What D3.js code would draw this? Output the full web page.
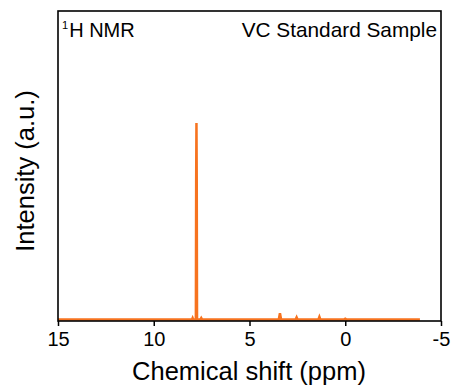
<!DOCTYPE html>
<html><head><meta charset="utf-8">
<script src="https://cdn.jsdelivr.net/npm/d3@7"></script>
<style>body{margin:0;background:#fff}svg{display:block}text{font-family:"Liberation Sans",Arial,sans-serif;fill:#000}</style>
</head><body>
<script>
// Chemical shift (ppm) and intensity (a.u., main peak = 100)
const shift = [15, 8.10, 8.00, 7.97, 7.94, 7.80, 7.785, 7.77, 7.755, 7.74, 7.56, 7.52, 7.48, 7.0,
  3.47, 3.41, 3.35, 2.59, 2.54, 2.49, 1.40, 1.35, 1.30, 0.05, 0.0, -0.05, -3.9];
const intensity = [0, 0, 0, 0.7, 0, 0, 70, 100, 70, 0, 0, 0.7, 0, 0,
  0, 3.2, 0, 0, 1.1, 0, 0, 1.3, 0, 0, 0.3, 0, 0];
const xTicks = [15, 10, 5, 0, -5];
const labelTopLeft = "H NMR";
const labelTopRight = "VC Standard Sample";

const W = 454, H = 391;
const m = {left: 58, right: 441, top: 11, bottom: 321};
const svg = d3.select("body").append("svg").attr("width", W).attr("height", H);

const x = d3.scaleLinear().domain([15, -5]).range([m.left, m.right]);
const y = d3.scaleLinear().domain([-0.8, 157]).range([m.bottom, m.top]);

const pts = shift.map((s, i) => [s, intensity[i]]);
svg.append("path").datum(pts)
  .attr("fill", "none").attr("stroke", "#f7731f").attr("stroke-width", 2.5)
  .attr("stroke-linejoin", "miter")
  .attr("d", d3.line().x(d => x(d[0])).y(d => y(d[1])));

// frame
svg.append("rect").attr("x", m.left).attr("y", m.top)
  .attr("width", m.right - m.left).attr("height", m.bottom - m.top)
  .attr("fill", "none").attr("stroke", "#000").attr("stroke-width", 1.6);

const xa = svg.append("g").attr("transform", `translate(0,${m.bottom})`)
  .call(d3.axisBottom(x).tickValues(xTicks).tickSize(5).tickPadding(6).tickFormat(d => String(d)));
xa.select(".domain").remove();
xa.selectAll("line").attr("stroke-width", 1.5);
xa.selectAll("text").attr("font-size", 20).attr("font-family", '"Liberation Sans",Arial,sans-serif');

svg.append("text").attr("x", 249).attr("y", 380)
  .attr("text-anchor", "middle").attr("font-size", 25.5).text("Chemical shift (ppm)");
svg.append("text").attr("transform", "translate(34,171) rotate(-90)")
  .attr("text-anchor", "middle").attr("font-size", 25.5).text("Intensity (a.u.)");

const t1 = svg.append("text").attr("x", 62).attr("y", 37).attr("font-size", 20);
t1.append("tspan").attr("font-size", 11).attr("dy", -8).text("1");
t1.append("tspan").attr("dy", 8).attr("dx", 1).text(labelTopLeft);

svg.append("text").attr("x", 437).attr("y", 37).attr("text-anchor", "end")
  .attr("font-size", 20.8).text(labelTopRight);
</script>
</body></html>
